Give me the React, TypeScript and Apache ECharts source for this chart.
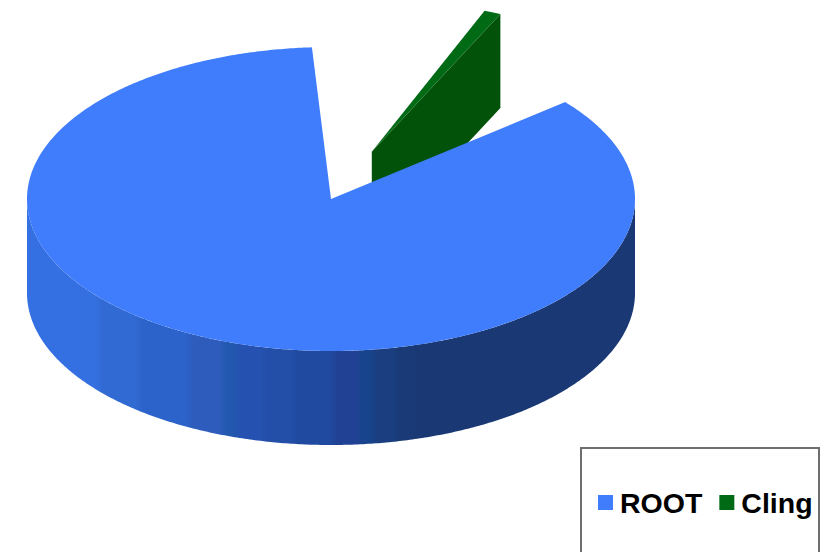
import React, { useEffect, useRef } from "react";
import * as echarts from "echarts";

// Slice shares, in percent of the full turn; the rest of the turn stays open.
const categories = ["ROOT", "Cling"];
const shares = [85, 0.9];

const TURN = 100;
const FIRST_SLICE_START = 50.4; // degrees clockwise from twelve o'clock

// Tilted disc projection
const CX = 331;
const CY = 199;
const RX = 304;
const RY = 152;
const DEPTH = 94;
const EXPLODE = 0.338;

const TOP_BLUE = "#407dfd";
const TOP_GREEN = "#006a14";
const SIDE_GREEN = "#03520a";

// Stepped shading of the rim, left to right across the disc
const rimBands: [number, string][] = [
  [0, "#3470e2"],
  [0.09, "#3470e0"],
  [0.125, "#316ad2"],
  [0.19, "#2c63cb"],
  [0.272, "#2d5cbd"],
  [0.328, "#2259ae"],
  [0.35, "#2552b1"],
  [0.395, "#244fa8"],
  [0.444, "#1f4aa0"],
  [0.51, "#214294"],
  [0.553, "#17448c"],
  [0.576, "#1a3e80"],
  [0.613, "#193a76"],
  [0.646, "#193874"],
];

const BAND_BLEND = 0.012;
const rimStops = rimBands.flatMap(([offset, color], i) => {
  const next = i + 1 < rimBands.length ? rimBands[i + 1][0] - BAND_BLEND : 1;
  return [
    { offset, color },
    { offset: next, color },
  ];
});

const at = (deg: number, r = 1, ox = 0, oy = 0): number[] => {
  const a = (deg * Math.PI) / 180;
  return [CX + ox + RX * r * Math.sin(a), CY + oy - RY * r * Math.cos(a)];
};

const arc = (from: number, to: number, dy = 0): number[][] => {
  const pts: number[][] = [];
  const steps = Math.max(2, Math.ceil(Math.abs(to - from) * 2));
  for (let i = 0; i <= steps; i++) {
    pts.push(at(from + ((to - from) * i) / steps, 1, 0, dy));
  }
  return pts;
};

const toDegrees = (share: number) => (share / TURN) * 360;

// Large slice: rim first, flat top face over it.
const renderRoot = (_params: unknown, api: any) => {
  const start = FIRST_SLICE_START;
  const end = start + toDegrees(api.value(0));
  const rimFrom = Math.max(start, 90);
  const rimTo = Math.min(end, 270);
  const rim = [...arc(rimFrom, rimTo), ...arc(rimTo, rimFrom, DEPTH)];
  const top = [[CX, CY], ...arc(start, end)];
  return {
    type: "group",
    children: [
      {
        type: "polygon",
        shape: { points: rim },
        style: { fill: new echarts.graphic.LinearGradient(0, 0, 1, 0, rimStops) },
      },
      { type: "polygon", shape: { points: top }, style: { fill: TOP_BLUE } },
    ],
  };
};

// Small slice, pulled out along the middle of the open part of the turn.
const renderCling = (_params: unknown, api: any) => {
  const gapStart = FIRST_SLICE_START + toDegrees(shares[0]) - 360;
  const mid = (gapStart + FIRST_SLICE_START) / 2;
  const half = toDegrees(api.value(0)) / 2;
  const a = (mid * Math.PI) / 180;
  const ox = EXPLODE * RX * Math.sin(a);
  const oy = -EXPLODE * RY * Math.cos(a);
  const apex = [CX + ox, CY + oy];
  const left = at(mid - half, 1, ox, oy);
  const right = at(mid + half, 1, ox, oy);
  return {
    type: "group",
    children: [
      {
        type: "polygon",
        shape: {
          points: [apex, right, [right[0], right[1] + DEPTH], [apex[0], apex[1] + DEPTH]],
        },
        style: { fill: SIDE_GREEN },
      },
      { type: "polygon", shape: { points: [apex, left, right] }, style: { fill: TOP_GREEN } },
    ],
  };
};

export default function App() {
  const ref = useRef<HTMLDivElement>(null);

  useEffect(() => {
    const chart = echarts.init(ref.current!, undefined, { renderer: "svg" });
    chart.setOption({
      animation: false,
      backgroundColor: "#ffffff",
      graphic: [
        {
          type: "rect",
          z: 0,
          shape: { x: 581, y: 448, width: 238, height: 130 },
          style: { fill: "#ffffff", stroke: "#6e6e6e", lineWidth: 2 },
        },
      ],
      legend: {
        data: categories,
        left: 598,
        top: 488,
        padding: 0,
        icon: "rect",
        itemWidth: 15,
        itemHeight: 15,
        itemGap: 17,
        z: 5,
        textStyle: {
          fontFamily: "Liberation Sans",
          fontWeight: "bold",
          fontSize: 28.5,
          color: "#000000",
          padding: [12, 0, 0, 2],
        },
      },
      series: [
        {
          type: "custom",
          name: categories[0],
          coordinateSystem: "none",
          renderItem: renderRoot,
          data: [[shares[0]]],
          itemStyle: { color: TOP_BLUE },
          z: 3,
        },
        {
          type: "custom",
          name: categories[1],
          coordinateSystem: "none",
          renderItem: renderCling,
          data: [[shares[1]]],
          itemStyle: { color: TOP_GREEN },
          z: 2,
        },
      ],
    });
    return () => chart.dispose();
  }, []);

  return <div ref={ref} style={{ position: "absolute", left: 0, top: 0, width: 820, height: 552 }} />;
}
